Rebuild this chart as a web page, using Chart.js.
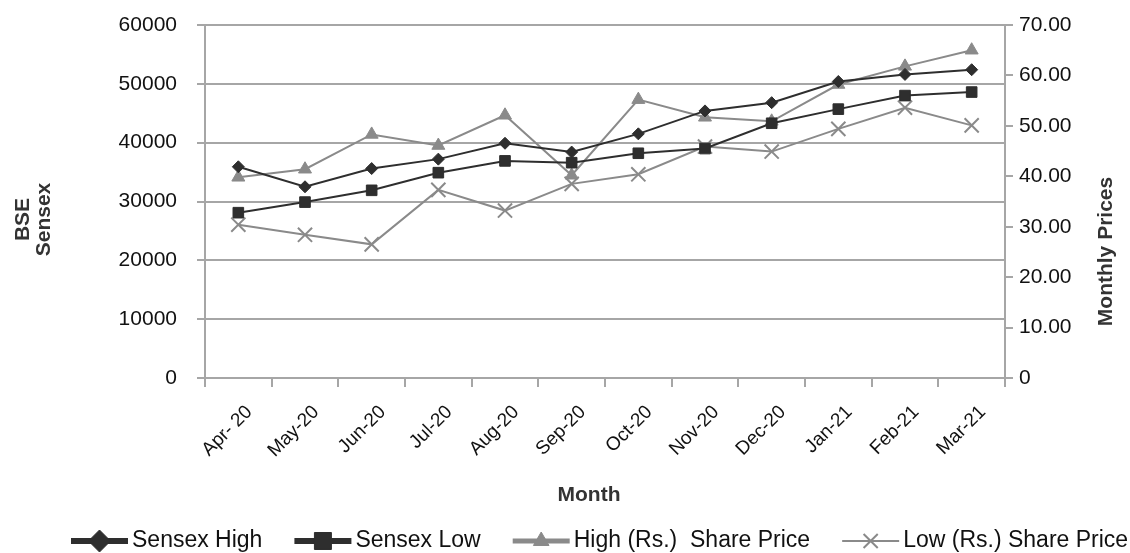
<!DOCTYPE html>
<html>
<head>
<meta charset="utf-8">
<script src="https://cdn.jsdelivr.net/npm/chart.js@4.4.1/dist/chart.umd.min.js"></script>
<style>
  html, body { margin: 0; padding: 0; background: #fff; }
  canvas { display: block; }
</style>
</head>
<body>
<canvas id="chart" width="1130" height="553"></canvas>
<script>
// data
const months = ['Apr- 20', 'May-20', 'Jun-20', 'Jul-20', 'Aug-20', 'Sep-20', 'Oct-20', 'Nov-20', 'Dec-20', 'Jan-21', 'Feb-21', 'Mar-21'];
const sensexHigh = [35900, 32500, 35600, 37200, 39900, 38400, 41500, 45400, 46800, 50400, 51600, 52400];
const sensexLow = [28100, 29900, 31900, 34900, 36900, 36600, 38200, 39000, 43300, 45700, 48000, 48600];
const shareHigh = [39.8, 41.4, 48.3, 46.1, 52.1, 40.2, 55.2, 51.7, 50.9, 58.2, 61.8, 65.0];
const shareLow = [30.4, 28.4, 26.5, 37.3, 33.2, 38.5, 40.4, 45.9, 44.9, 49.4, 53.6, 50.1];
const sensexTicks = ['0', '10000', '20000', '30000', '40000', '50000', '60000'];
const priceTicks = ['0', '10.00', '20.00', '30.00', '40.00', '50.00', '60.00', '70.00'];

const FONT = "'Liberation Sans', Arial, sans-serif";
const DARK = '#2e2e2e';
const GREY = '#8a8a8a';
const AXIS = '#a6a6a6';

// legend look per series: line thickness and marker size
const legendLine = [6, 6, 5, 2];
const legendMarker = [11, 12, 9, 10];

// custom bottom legend: line with marker, then the label
const bottomLegend = {
  id: 'bottomLegend',
  afterDraw(chart) {
    const ctx = chart.ctx;
    const lineLen = 57, gap = 4, spacing = 32;
    ctx.save();
    ctx.font = '23px ' + FONT;
    let x = 71;
    const y = chart.height - 12;
    chart.data.datasets.forEach((ds, i) => {
      const w = lineLen + gap + ctx.measureText(ds.label).width;
      ctx.strokeStyle = ds.borderColor;
      ctx.lineWidth = legendLine[i];
      ctx.beginPath();
      ctx.moveTo(x, y);
      ctx.lineTo(x + lineLen, y);
      ctx.stroke();
      ctx.fillStyle = ds.pointBackgroundColor;
      ctx.strokeStyle = ds.pointBorderColor;
      ctx.lineWidth = ds.pointBorderWidth;
      Chart.helpers.drawPoint(ctx, {
        pointStyle: ds.pointStyle, radius: legendMarker[i], borderWidth: ds.pointBorderWidth, rotation: 0
      }, x + lineLen / 2, y);
      ctx.fillStyle = '#111';
      ctx.textAlign = 'left';
      ctx.textBaseline = 'middle';
      ctx.fillText(ds.label, x + lineLen + gap, y);
      x += w + spacing;
    });
    ctx.restore();
  }
};

// axis titles (both y titles read bottom to top)
const axisTitles = {
  id: 'axisTitles',
  afterDraw(chart) {
    const ctx = chart.ctx;
    const area = chart.chartArea;
    const cy = (area.top + area.bottom) / 2;
    ctx.save();
    ctx.font = 'bold 21px ' + FONT;
    ctx.fillStyle = '#333';
    ctx.textAlign = 'center';
    ctx.textBaseline = 'middle';

    ctx.fillText('Month', (area.left + area.right) / 2 - 16, 495);

    ctx.save();
    ctx.translate(0, cy + 18);
    ctx.rotate(-Math.PI / 2);
    ctx.fillText('BSE', 0, 23);
    ctx.fillText('Sensex', 0, 44);
    ctx.restore();

    ctx.translate(chart.scales.y1.right - 24, cy + 50);
    ctx.rotate(-Math.PI / 2);
    ctx.fillText('Monthly Prices', 0, 0);
    ctx.restore();
  }
};

// fixed axis box sizes; no extra padding pushed into the layout
function fixWidth(w) {
  return scale => {
    scale.width = w;
    scale.paddingTop = 0;
    scale.paddingBottom = 0;
  };
}

const ctx = document.getElementById('chart').getContext('2d');
new Chart(ctx, {
  type: 'line',
  data: {
    labels: months,
    datasets: [
      {
        label: 'Sensex High', data: sensexHigh, yAxisID: 'y',
        borderColor: DARK, borderWidth: 2,
        pointStyle: 'rectRot', pointRadius: 6,
        pointBackgroundColor: DARK, pointBorderColor: DARK, pointBorderWidth: 1
      },
      {
        label: 'Sensex Low', data: sensexLow, yAxisID: 'y',
        borderColor: DARK, borderWidth: 2,
        pointStyle: 'rect', pointRadius: 7.5,
        pointBackgroundColor: DARK, pointBorderColor: DARK, pointBorderWidth: 1
      },
      {
        label: 'High (Rs.)  Share Price', data: shareHigh, yAxisID: 'y1',
        borderColor: GREY, borderWidth: 2,
        pointStyle: 'triangle', pointRadius: 7.5,
        pointBackgroundColor: GREY, pointBorderColor: GREY, pointBorderWidth: 1
      },
      {
        label: 'Low (Rs.) Share Price', data: shareLow, yAxisID: 'y1',
        borderColor: GREY, borderWidth: 2,
        pointStyle: 'crossRot', pointRadius: 10,
        pointBackgroundColor: GREY, pointBorderColor: GREY, pointBorderWidth: 2
      }
    ]
  },
  options: {
    responsive: false,
    animation: false,
    layout: { autoPadding: false, padding: { top: 25, bottom: 46, left: 0, right: 0 } },
    elements: { line: { tension: 0 } },
    plugins: {
      legend: { display: false },
      tooltip: { enabled: false }
    },
    scales: {
      x: {
        offset: true,
        grid: { offset: true, drawOnChartArea: false, drawTicks: true, tickLength: 9, color: AXIS, lineWidth: 2 },
        border: { color: AXIS, width: 2 },
        ticks: {
          color: '#111', font: { family: FONT, size: 19 },
          maxRotation: 45, minRotation: 45, padding: 14, labelOffset: 11, autoSkip: false
        },
        afterFit(scale) { scale.height = 129; }
      },
      y: {
        position: 'left',
        min: 0, max: 60000,
        afterBuildTicks(scale) { scale.ticks = sensexTicks.map(t => ({ value: Number(t) })); },
        grid: { color: AXIS, lineWidth: 2, tickLength: 8 },
        border: { color: AXIS, width: 2 },
        ticks: {
          color: '#111', font: { family: FONT, size: 21 }, padding: 20,
          callback: (v, i) => sensexTicks[i]
        },
        afterFit: fixWidth(205)
      },
      y1: {
        position: 'right',
        min: 0, max: 70,
        afterBuildTicks(scale) { scale.ticks = priceTicks.map(t => ({ value: Number(t) })); },
        grid: { drawOnChartArea: false, color: AXIS, lineWidth: 2, tickLength: 8 },
        border: { color: AXIS, width: 2 },
        ticks: {
          color: '#111', font: { family: FONT, size: 21 }, padding: 6,
          callback: (v, i) => priceTicks[i]
        },
        afterFit: fixWidth(125)
      }
    }
  },
  plugins: [bottomLegend, axisTitles]
});
</script>
</body>
</html>
